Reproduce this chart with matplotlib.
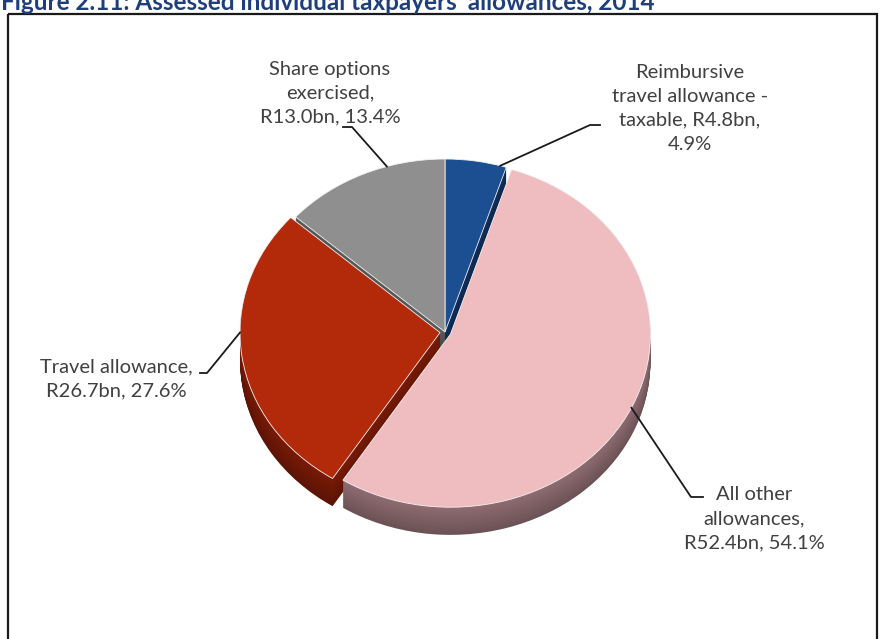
import matplotlib.pyplot as plt
import numpy as np
from matplotlib.patches import Rectangle
from matplotlib.colors import to_rgb

# Datos del gráfico
categories = ["Reimbursive\ntravel allowance -\ntaxable, R4.8bn,\n4.9%",
              "All other\nallowances,\nR52.4bn, 54.1%",
              "Travel allowance,\nR26.7bn, 27.6%",
              "Share options\nexercised,\nR13.0bn, 13.4%"]
values_bn = [4.8, 52.4, 26.7, 13.0]
shares = [4.9, 54.1, 27.6, 13.4]

title = "Figure 2.11: Assessed individual taxpayers' allowances, 2014"

top_colors = ["#1c4f92", "#efbdbf", "#b32a0b", "#8f8f8f"]
side_colors = ["#0f2f5c", "#8f6d72", "#7a1a06", "#5a5a5a"]
explode = [0.0, 0.03, 0.025, 0.0]

plt.rcParams['font.family'] = ['Lato', 'DejaVu Sans']

fig = plt.figure(figsize=(8.8, 6.39), dpi=100)

# capa de fondo en pixeles
over = fig.add_axes([0, 0, 1, 1], zorder=3)
over.set_xlim(0, 880)
over.set_ylim(639, 0)
over.axis('off')
over.patch.set_alpha(0)

over.add_patch(Rectangle((8, 14), 869, 640, fill=False, edgecolor='#1a1a1a', lw=1.6))
over.text(1, 10, title, fontsize=17.5, fontweight='bold', color='#1f3f7a',
          ha='left', va='baseline')

# pastel "3D": elipse + espesor
pax = fig.add_axes([145 / 880, (639 - 582) / 639, 600 / 880, 500 / 639], zorder=1)
depth = 0.16
n_layers = 34
for i, k in enumerate(np.linspace(depth, 0, n_layers, endpoint=False)):
    shade = 0.75 + 0.25 * (i / n_layers)
    cols = [tuple(min(1, c * shade) for c in to_rgb(sc)) for sc in side_colors]
    pax.pie(values_bn, colors=cols, startangle=90, counterclock=False,
            explode=explode, center=(0, -k), wedgeprops=dict(linewidth=0))

wedges, _ = pax.pie(values_bn, colors=top_colors, startangle=90, counterclock=False,
                    explode=explode, wedgeprops=dict(linewidth=0.6, edgecolor='#f4f0f0'))
pax.set_aspect('auto')
pax.set_xlim(-1.5, 1.5)
pax.set_ylim(-250 / 173, 250 / 173)
pax.axis('off')

# etiquetas con líneas guía
label_pos = [(690, 108), (754, 519), (116, 379), (330, 93)]
line_start = [(600, 125), (703, 497), (200, 373), (343, 127)]
elbow_dx = [-10, -12, 7, 9]
anchor_frac = [0.9, 0.5, 0.58, 0.65]

to_over = pax.transData + over.transData.inverted()
for w, lab, pos, p0, dx, f in zip(wedges, categories, label_pos, line_start, elbow_dx, anchor_frac):
    over.text(pos[0], pos[1], lab, fontsize=14.5, color='#404040',
              ha='center', va='center', multialignment='center', linespacing=1.5)
    ang = np.deg2rad(w.theta2 - f * (w.theta2 - w.theta1))
    cx, cy = w.center
    ax_pt = (cx + w.r * np.cos(ang), cy + w.r * np.sin(ang))
    px, py = to_over.transform(ax_pt)
    over.plot([p0[0], p0[0] + dx, px], [p0[1], p0[1], py], color='#1a1a1a', lw=1.3)

fig.savefig("out.png", dpi=100, facecolor='white')
